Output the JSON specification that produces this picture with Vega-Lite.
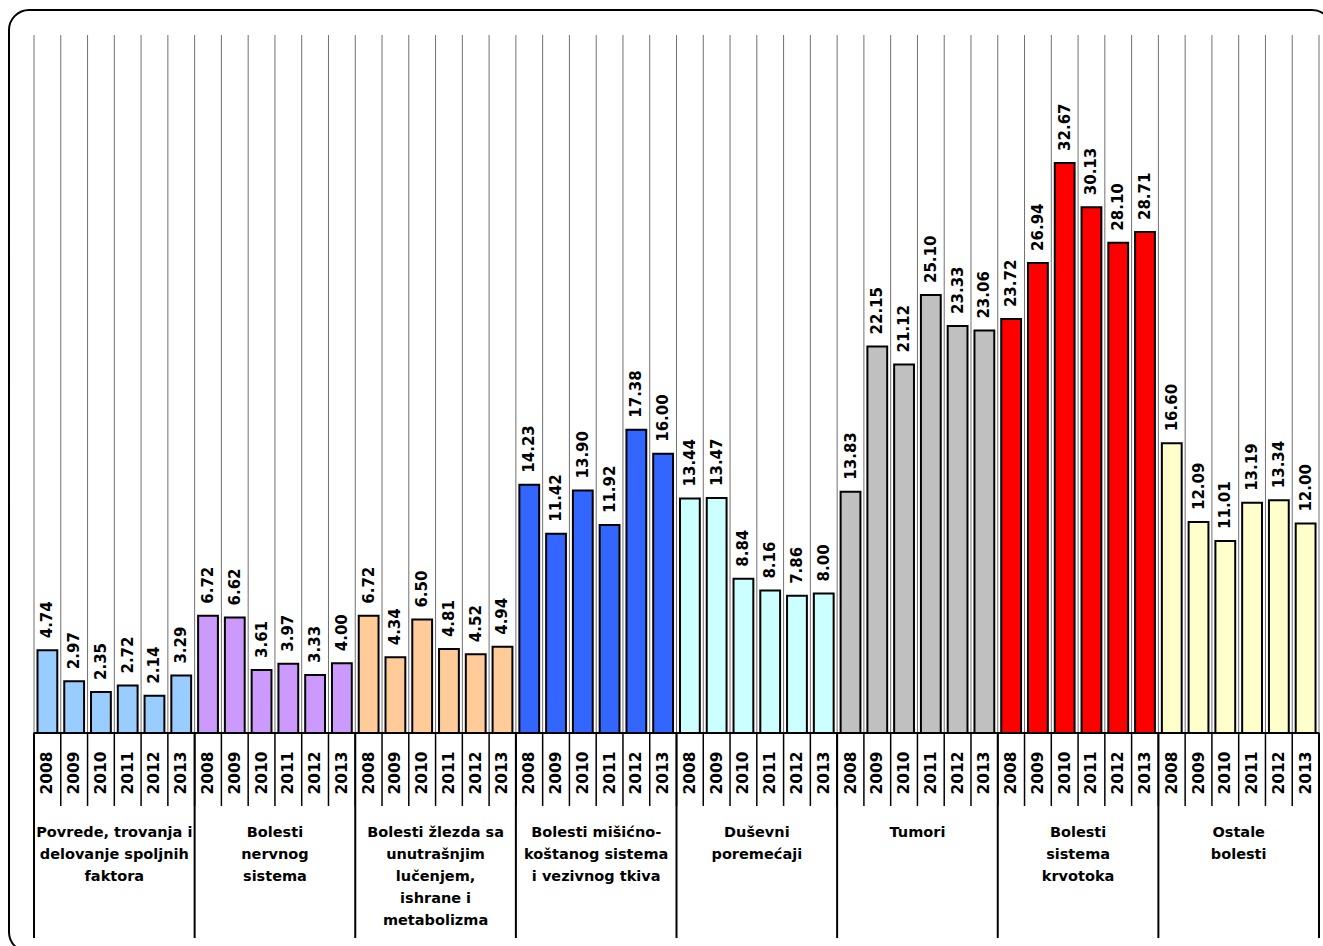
{
  "$schema": "https://vega.github.io/schema/vega-lite/v6.json",
  "width": 1323,
  "height": 942,
  "autosize": "none",
  "padding": {"left": 9, "top": 10, "right": 0, "bottom": 0},
  "background": "white",
  "config": {
    "view": {"stroke": "black", "strokeWidth": 2, "cornerRadius": 20},
    "font": "DejaVu Sans"
  },
  "data": {
    "values": [
      {"k": "1-2008", "gi": "1", "yr": "2008", "v": 4.74, "g": "Povrede, trovanja i\ndelovanje spoljnih\nfaktora"},
      {"k": "1-2009", "gi": "1", "yr": "2009", "v": 2.97, "g": "Povrede, trovanja i\ndelovanje spoljnih\nfaktora"},
      {"k": "1-2010", "gi": "1", "yr": "2010", "v": 2.35, "g": "Povrede, trovanja i\ndelovanje spoljnih\nfaktora"},
      {"k": "1-2011", "gi": "1", "yr": "2011", "v": 2.72, "g": "Povrede, trovanja i\ndelovanje spoljnih\nfaktora"},
      {"k": "1-2012", "gi": "1", "yr": "2012", "v": 2.14, "g": "Povrede, trovanja i\ndelovanje spoljnih\nfaktora"},
      {"k": "1-2013", "gi": "1", "yr": "2013", "v": 3.29, "g": "Povrede, trovanja i\ndelovanje spoljnih\nfaktora"},
      {"k": "2-2008", "gi": "2", "yr": "2008", "v": 6.72, "g": "Bolesti\nnervnog\nsistema"},
      {"k": "2-2009", "gi": "2", "yr": "2009", "v": 6.62, "g": "Bolesti\nnervnog\nsistema"},
      {"k": "2-2010", "gi": "2", "yr": "2010", "v": 3.61, "g": "Bolesti\nnervnog\nsistema"},
      {"k": "2-2011", "gi": "2", "yr": "2011", "v": 3.97, "g": "Bolesti\nnervnog\nsistema"},
      {"k": "2-2012", "gi": "2", "yr": "2012", "v": 3.33, "g": "Bolesti\nnervnog\nsistema"},
      {"k": "2-2013", "gi": "2", "yr": "2013", "v": 4.00, "g": "Bolesti\nnervnog\nsistema"},
      {"k": "3-2008", "gi": "3", "yr": "2008", "v": 6.72, "g": "Bolesti žlezda sa\nunutrašnjim\nlučenjem,\nishrane i\nmetabolizma"},
      {"k": "3-2009", "gi": "3", "yr": "2009", "v": 4.34, "g": "Bolesti žlezda sa\nunutrašnjim\nlučenjem,\nishrane i\nmetabolizma"},
      {"k": "3-2010", "gi": "3", "yr": "2010", "v": 6.50, "g": "Bolesti žlezda sa\nunutrašnjim\nlučenjem,\nishrane i\nmetabolizma"},
      {"k": "3-2011", "gi": "3", "yr": "2011", "v": 4.81, "g": "Bolesti žlezda sa\nunutrašnjim\nlučenjem,\nishrane i\nmetabolizma"},
      {"k": "3-2012", "gi": "3", "yr": "2012", "v": 4.52, "g": "Bolesti žlezda sa\nunutrašnjim\nlučenjem,\nishrane i\nmetabolizma"},
      {"k": "3-2013", "gi": "3", "yr": "2013", "v": 4.94, "g": "Bolesti žlezda sa\nunutrašnjim\nlučenjem,\nishrane i\nmetabolizma"},
      {"k": "4-2008", "gi": "4", "yr": "2008", "v": 14.23, "g": "Bolesti mišićno-\nkoštanog sistema\ni vezivnog tkiva"},
      {"k": "4-2009", "gi": "4", "yr": "2009", "v": 11.42, "g": "Bolesti mišićno-\nkoštanog sistema\ni vezivnog tkiva"},
      {"k": "4-2010", "gi": "4", "yr": "2010", "v": 13.90, "g": "Bolesti mišićno-\nkoštanog sistema\ni vezivnog tkiva"},
      {"k": "4-2011", "gi": "4", "yr": "2011", "v": 11.92, "g": "Bolesti mišićno-\nkoštanog sistema\ni vezivnog tkiva"},
      {"k": "4-2012", "gi": "4", "yr": "2012", "v": 17.38, "g": "Bolesti mišićno-\nkoštanog sistema\ni vezivnog tkiva"},
      {"k": "4-2013", "gi": "4", "yr": "2013", "v": 16.00, "g": "Bolesti mišićno-\nkoštanog sistema\ni vezivnog tkiva"},
      {"k": "5-2008", "gi": "5", "yr": "2008", "v": 13.44, "g": "Duševni\nporemećaji"},
      {"k": "5-2009", "gi": "5", "yr": "2009", "v": 13.47, "g": "Duševni\nporemećaji"},
      {"k": "5-2010", "gi": "5", "yr": "2010", "v": 8.84, "g": "Duševni\nporemećaji"},
      {"k": "5-2011", "gi": "5", "yr": "2011", "v": 8.16, "g": "Duševni\nporemećaji"},
      {"k": "5-2012", "gi": "5", "yr": "2012", "v": 7.86, "g": "Duševni\nporemećaji"},
      {"k": "5-2013", "gi": "5", "yr": "2013", "v": 8.00, "g": "Duševni\nporemećaji"},
      {"k": "6-2008", "gi": "6", "yr": "2008", "v": 13.83, "g": "Tumori"},
      {"k": "6-2009", "gi": "6", "yr": "2009", "v": 22.15, "g": "Tumori"},
      {"k": "6-2010", "gi": "6", "yr": "2010", "v": 21.12, "g": "Tumori"},
      {"k": "6-2011", "gi": "6", "yr": "2011", "v": 25.10, "g": "Tumori"},
      {"k": "6-2012", "gi": "6", "yr": "2012", "v": 23.33, "g": "Tumori"},
      {"k": "6-2013", "gi": "6", "yr": "2013", "v": 23.06, "g": "Tumori"},
      {"k": "7-2008", "gi": "7", "yr": "2008", "v": 23.72, "g": "Bolesti\nsistema\nkrvotoka"},
      {"k": "7-2009", "gi": "7", "yr": "2009", "v": 26.94, "g": "Bolesti\nsistema\nkrvotoka"},
      {"k": "7-2010", "gi": "7", "yr": "2010", "v": 32.67, "g": "Bolesti\nsistema\nkrvotoka"},
      {"k": "7-2011", "gi": "7", "yr": "2011", "v": 30.13, "g": "Bolesti\nsistema\nkrvotoka"},
      {"k": "7-2012", "gi": "7", "yr": "2012", "v": 28.10, "g": "Bolesti\nsistema\nkrvotoka"},
      {"k": "7-2013", "gi": "7", "yr": "2013", "v": 28.71, "g": "Bolesti\nsistema\nkrvotoka"},
      {"k": "8-2008", "gi": "8", "yr": "2008", "v": 16.60, "g": "Ostale\nbolesti"},
      {"k": "8-2009", "gi": "8", "yr": "2009", "v": 12.09, "g": "Ostale\nbolesti"},
      {"k": "8-2010", "gi": "8", "yr": "2010", "v": 11.01, "g": "Ostale\nbolesti"},
      {"k": "8-2011", "gi": "8", "yr": "2011", "v": 13.19, "g": "Ostale\nbolesti"},
      {"k": "8-2012", "gi": "8", "yr": "2012", "v": 13.34, "g": "Ostale\nbolesti"},
      {"k": "8-2013", "gi": "8", "yr": "2013", "v": 12.00, "g": "Ostale\nbolesti"}
    ]
  },
  "encoding": {
    "x": {
      "field": "k",
      "type": "nominal",
      "sort": "ascending",
      "axis": null,
      "scale": {"paddingInner": 0, "paddingOuter": 0.70977, "align": 0.658, "round": false}
    }
  },
  "layer": [
    {
      "mark": {"type": "rule", "color": "#707070", "strokeWidth": 1},
      "encoding": {
        "x": {"field": "k", "type": "nominal", "bandPosition": 0},
        "y": {"datum": 0, "type": "quantitative", "scale": {"domain": [-12.55, 41.433], "nice": false, "zero": false}, "axis": null},
        "y2": {"datum": 40}
      }
    },
    {
      "transform": [{"filter": "datum.k == '8-2013'"}],
      "mark": {"type": "rule", "color": "#707070", "strokeWidth": 1},
      "encoding": {
        "x": {"field": "k", "type": "nominal", "bandPosition": 1},
        "y": {"datum": 0, "type": "quantitative", "scale": {"domain": [-12.55, 41.433], "nice": false, "zero": false}, "axis": null},
        "y2": {"datum": 40}
      }
    },
    {
      "mark": {"type": "bar", "width": {"band": 0.74}, "stroke": "black", "strokeWidth": 2},
      "encoding": {
        "y": {"field": "v", "type": "quantitative", "scale": {"domain": [-12.55, 41.433], "nice": false, "zero": false}, "axis": null},
        "y2": {"datum": 0},
        "color": {
          "field": "gi",
          "type": "nominal",
          "legend": null,
          "scale": {
            "domain": ["1", "2", "3", "4", "5", "6", "7", "8"],
            "range": ["#99CCFF", "#CC99FF", "#FFCC99", "#3366FF", "#CCFFFF", "#C0C0C0", "#FF0000", "#FFFFCC"]
          }
        }
      }
    },
    {
      "mark": {"type": "text", "angle": 270, "align": "left", "baseline": "middle", "fontSize": 15, "fontWeight": "bold", "color": "black", "yOffset": -12},
      "encoding": {
        "y": {"field": "v", "type": "quantitative", "scale": {"domain": [-12.55, 41.433], "nice": false, "zero": false}, "axis": null},
        "text": {"field": "v", "type": "quantitative", "format": ".2f"}
      }
    },
    {
      "mark": {"type": "tick", "orient": "horizontal", "thickness": 2, "color": "black", "opacity": 1},
      "encoding": {
        "y": {"datum": 0, "type": "quantitative", "scale": {"domain": [-12.55, 41.433], "nice": false, "zero": false}, "axis": null},
        "size": {"value": 27.5}
      }
    },
    {
      "mark": {"type": "rule", "color": "black", "strokeWidth": 1.5},
      "encoding": {
        "x": {"field": "k", "type": "nominal", "bandPosition": 0},
        "y": {"datum": 0, "type": "quantitative", "scale": {"domain": [-12.55, 41.433], "nice": false, "zero": false}, "axis": null},
        "y2": {"datum": -4.18}
      }
    },
    {
      "transform": [{"filter": "datum.yr == '2008'"}],
      "mark": {"type": "rule", "color": "black", "strokeWidth": 2},
      "encoding": {
        "x": {"field": "k", "type": "nominal", "bandPosition": 0},
        "y": {"datum": 0, "type": "quantitative", "scale": {"domain": [-12.55, 41.433], "nice": false, "zero": false}, "axis": null},
        "y2": {"datum": -11.75}
      }
    },
    {
      "transform": [{"filter": "datum.k == '8-2013'"}],
      "mark": {"type": "rule", "color": "black", "strokeWidth": 2},
      "encoding": {
        "x": {"field": "k", "type": "nominal", "bandPosition": 1},
        "y": {"datum": 0, "type": "quantitative", "scale": {"domain": [-12.55, 41.433], "nice": false, "zero": false}, "axis": null},
        "y2": {"datum": -11.75}
      }
    },
    {
      "mark": {"type": "text", "angle": 270, "align": "center", "baseline": "middle", "fontSize": 15.5, "fontWeight": "bold", "color": "black", "yOffset": 40},
      "encoding": {
        "y": {"datum": 0, "type": "quantitative", "scale": {"domain": [-12.55, 41.433], "nice": false, "zero": false}, "axis": null},
        "text": {"field": "yr", "type": "nominal"}
      }
    },
    {
      "transform": [{"filter": "datum.yr == '2011'"}],
      "mark": {"type": "text", "align": "center", "baseline": "top", "lineBreak": "\n", "lineHeight": 22, "fontSize": 14.5, "fontWeight": "bold", "color": "black", "yOffset": 93},
      "encoding": {
        "x": {"field": "k", "type": "nominal", "bandPosition": 0},
        "y": {"datum": 0, "type": "quantitative", "scale": {"domain": [-12.55, 41.433], "nice": false, "zero": false}, "axis": null},
        "text": {"field": "g", "type": "nominal"}
      }
    }
  ]
}
